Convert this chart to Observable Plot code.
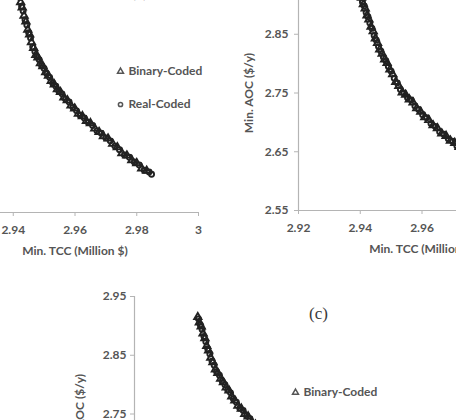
<!DOCTYPE html>
<html>
<head>
<meta charset="utf-8">
<script src="https://cdn.jsdelivr.net/npm/d3@7"></script>
<script src="https://cdn.jsdelivr.net/npm/@observablehq/plot@0.6"></script>
<style>
  html, body { margin: 0; padding: 0; background: #fff; }
  #wrap { position: relative; width: 456px; height: 420px; overflow: hidden; background: #fff; }
  #wrap svg { position: absolute; overflow: visible; }
</style>
</head>
<body>
<div id="wrap"></div>
<script>
// ---------- data ----------
const xTicks = [2.92, 2.94, 2.96, 2.98, 3];
const yTicks = [2.55, 2.65, 2.75, 2.85, 2.95];
const seriesNames = ["Binary-Coded", "Real-Coded"];
const panelLabels = ["(a)", "(b)", "(c)"];
const xTitle = "Min. TCC (Million $)";
const yTitle = "Min. AOC ($/y)";

// Panel (a)
const binA_x = [2.9412,2.9418,2.9424,2.9429,2.9435,2.9441,2.9447,2.9453,2.9459,2.9466,2.9473,2.9480,2.9488,2.9496,2.9505,2.9514,2.9523,2.9533,2.9543,2.9553,2.9564,2.9575,2.9587,2.9599,2.9611,2.9624,2.9637,2.9650,2.9664,2.9678,2.9692,2.9707,2.9722,2.9737,2.9752,2.9768,2.9784,2.9800,2.9816,2.9832];
const binA_y = [2.934,2.922,2.908,2.899,2.885,2.875,2.861,2.853,2.840,2.830,2.818,2.814,2.804,2.799,2.789,2.783,2.774,2.768,2.760,2.755,2.746,2.741,2.732,2.727,2.718,2.714,2.706,2.702,2.693,2.687,2.680,2.676,2.667,2.661,2.651,2.647,2.639,2.634,2.625,2.621];
const realA_x = [2.9409,2.9415,2.9421,2.9427,2.9432,2.9438,2.9444,2.9450,2.9456,2.9463,2.9470,2.9477,2.9484,2.9492,2.9500,2.9509,2.9518,2.9528,2.9538,2.9548,2.9558,2.9569,2.9581,2.9593,2.9605,2.9617,2.9630,2.9643,2.9657,2.9671,2.9685,2.9700,2.9714,2.9729,2.9744,2.9760,2.9776,2.9792,2.9808,2.9824,2.9840,2.9848];
const realA_y = [2.940,2.926,2.916,2.901,2.893,2.878,2.869,2.856,2.847,2.832,2.824,2.815,2.810,2.800,2.795,2.786,2.780,2.770,2.765,2.756,2.752,2.743,2.738,2.729,2.723,2.715,2.711,2.703,2.698,2.689,2.685,2.677,2.672,2.663,2.657,2.648,2.644,2.636,2.631,2.622,2.619,2.615];

// Panel (b)
const binB_x = [2.9398,2.9404,2.9410,2.9416,2.9422,2.9428,2.9435,2.9442,2.9449,2.9456,2.9463,2.9471,2.9479,2.9487,2.9496,2.9505,2.9515,2.9525,2.9536,2.9547,2.9559,2.9571,2.9583,2.9596,2.9609,2.9622,2.9636,2.9650,2.9664,2.9678,2.9692,2.9706,2.9720,2.9740,2.9770,2.9800,2.9830];
const binB_y = [2.921,2.912,2.901,2.894,2.882,2.875,2.863,2.855,2.843,2.835,2.824,2.817,2.807,2.801,2.790,2.782,2.769,2.762,2.751,2.747,2.739,2.734,2.724,2.718,2.709,2.704,2.695,2.690,2.681,2.677,2.669,2.665,2.658,2.652,2.640,2.633,2.622];
const realB_x = [2.9401,2.9407,2.9413,2.9419,2.9425,2.9431,2.9438,2.9445,2.9452,2.9459,2.9467,2.9475,2.9483,2.9491,2.9500,2.9510,2.9520,2.9530,2.9541,2.9553,2.9565,2.9577,2.9589,2.9602,2.9615,2.9629,2.9643,2.9657,2.9671,2.9685,2.9699,2.9713,2.9730,2.9755,2.9785,2.9815,2.9845];
const realB_y = [2.916,2.905,2.898,2.887,2.880,2.869,2.860,2.848,2.840,2.829,2.821,2.811,2.805,2.795,2.787,2.775,2.767,2.756,2.750,2.742,2.738,2.728,2.722,2.713,2.708,2.698,2.693,2.684,2.680,2.672,2.668,2.660,2.656,2.645,2.638,2.627,2.618];

// Panel (c)
const binC_x = [2.9405,2.9410,2.9416,2.9422,2.9428,2.9434,2.9440,2.9447,2.9454,2.9462,2.9470,2.9479,2.9488,2.9497,2.9506,2.9515,2.9525,2.9535,2.9546,2.9557,2.9568,2.9580,2.9592,2.9605];
const binC_y = [2.915,2.906,2.899,2.887,2.879,2.866,2.858,2.846,2.838,2.826,2.820,2.810,2.804,2.795,2.790,2.780,2.773,2.764,2.759,2.750,2.746,2.737,2.732,2.724];
const realC_x = [2.9407,2.9413,2.9419,2.9425,2.9431,2.9437,2.9444,2.9451,2.9458,2.9466,2.9475,2.9484,2.9493,2.9502,2.9511,2.9520,2.9530,2.9541,2.9552,2.9563,2.9574,2.9586,2.9598];
const realC_y = [2.912,2.902,2.894,2.882,2.873,2.861,2.852,2.840,2.833,2.822,2.816,2.806,2.800,2.791,2.786,2.776,2.770,2.760,2.756,2.747,2.742,2.733,2.729];

// ---------- drawing ----------
const axisColor = "#b4b4b4";
const textColor = "#555555";
const markColor = "#222222";
const W = 247, H = 235, mL = 80, mT = 40, mR = 40, mB = 60;

function panel(cfg) {
  const bin = cfg.bx.map((x, i) => ({x, y: cfg.by[i]}));
  const real = cfg.rx.map((x, i) => ({x, y: cfg.ry[i]}));
  const txt = {fill: textColor, fontSize: 12, fontWeight: "bold", fontFamily: "Lato"};
  const svg = Plot.plot({
    width: mL + W + mR, height: mT + H + mB,
    marginLeft: mL, marginTop: mT, marginRight: mR, marginBottom: mB,
    x: {domain: [2.92, 3], label: null},
    y: {domain: [2.55, 2.95], label: null},
    style: {fontFamily: "Lato", background: "transparent"},
    marks: [
      Plot.ruleY([2.55], {stroke: axisColor, strokeWidth: 1.2}),
      Plot.ruleX([2.92], {stroke: axisColor, strokeWidth: 1.2}),
      Plot.axisX(xTicks, {tickSize: 4, tickPadding: 9, stroke: axisColor, tickFormat: d => String(d), label: null, ...txt}),
      Plot.axisY(yTicks, {tickSize: 4, tickPadding: cfg.yPad, stroke: axisColor, tickFormat: d => d.toFixed(2), label: null, ...txt}),
      Plot.text([xTitle], {text: d => d, frameAnchor: "bottom", dy: 39, textAnchor: "middle", lineAnchor: "middle", ...txt}),
      Plot.text([yTitle], {text: d => d, frameAnchor: "left", rotate: -90, dx: cfg.yTitleDx, textAnchor: "middle", lineAnchor: "middle", ...txt}),
      Plot.dot(bin, {x: "x", y: "y", symbol: "triangle", r: 2.7, stroke: markColor, fill: "none", strokeWidth: 1.9}),
      Plot.dot(real, {x: "x", y: "y", symbol: "circle", r: 2.5, stroke: markColor, fill: "none", strokeWidth: 1.9}),
      Plot.dot([seriesNames[0]], {frameAnchor: "top-left", dx: cfg.lgx, dy: cfg.lgy, symbol: "triangle", r: 2.2, stroke: "#555", fill: "none"}),
      Plot.dot([seriesNames[1]], {frameAnchor: "top-left", dx: cfg.lgx, dy: cfg.lgy + 33, symbol: "circle", r: 2.1, stroke: "#555", fill: "none"}),
      Plot.text([seriesNames[0]], {text: d => d, frameAnchor: "top-left", dx: cfg.lgx + 8, dy: cfg.lgy, textAnchor: "start", lineAnchor: "middle", ...txt}),
      Plot.text([seriesNames[1]], {text: d => d, frameAnchor: "top-left", dx: cfg.lgx + 8, dy: cfg.lgy + 33, textAnchor: "start", lineAnchor: "middle", ...txt}),
      Plot.text([cfg.label], {text: d => d, frameAnchor: "top-left", dx: cfg.labx, dy: cfg.laby, textAnchor: "middle", lineAnchor: "middle", fontFamily: "Liberation Serif", fontSize: 17, fill: "#3a3a3a"})
    ]
  });
  svg.style.left = (cfg.frameLeft - mL) + "px";
  svg.style.top = (cfg.frameTop - mT) + "px";
  document.getElementById("wrap").appendChild(svg);
}

panel({bx: binA_x, by: binA_y, rx: realA_x, ry: realA_y, label: panelLabels[0],
       frameLeft: -49, frameTop: -23, yPad: 6, yTitleDx: -49, lgx: 169, lgy: 94, labx: 188, laby: 14});
panel({bx: binB_x, by: binB_y, rx: realB_x, ry: realB_y, label: panelLabels[1],
       frameLeft: 298, frameTop: -25, yPad: 6, yTitleDx: -49, lgx: 169, lgy: 94, labx: 188, laby: 14});
panel({bx: binC_x, by: binC_y, rx: realC_x, ry: realC_y, label: panelLabels[2],
       frameLeft: 134, frameTop: 296, yPad: 4, yTitleDx: -54, lgx: 161, lgy: 96, labx: 184, laby: 17});
</script>
</body>
</html>
